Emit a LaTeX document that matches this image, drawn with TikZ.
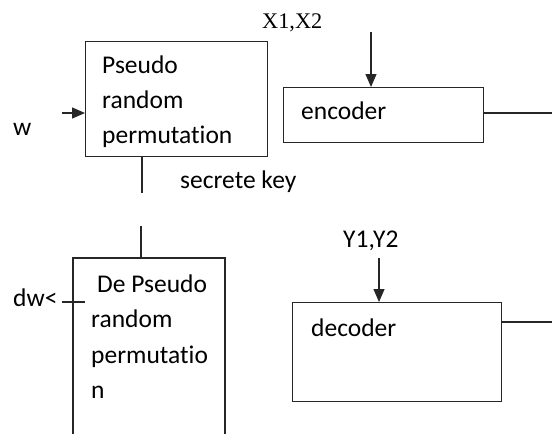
\documentclass[tikz,border=0pt]{standalone}
\usepackage{fontspec}
\setmainfont[Ligatures=NoCommon]{Carlito}
\newfontfamily\serifx{Liberation Serif}
\usetikzlibrary{arrows.meta}
\begin{document}
\begin{tikzpicture}[x=1pt,y=-1pt,
  blk/.style={draw=black!85,line width=1.2pt,rectangle,inner sep=0pt,minimum width=0pt},
  txt/.style={anchor=base west,inner sep=0pt,font=\fontsize{25.5}{30}\selectfont},
  sertxt/.style={anchor=base west,inner sep=0pt,font=\serifx\fontsize{22.3}{26}\selectfont},
  conn/.style={draw=black!85,line width=1.2pt},
  arr/.style={conn,-{Triangle[length=13pt,width=11pt]}}]
\useasboundingbox (0,0) rectangle (552,434);
\clip (0,0) rectangle (552,434);
% boxes
\node[blk,minimum width=182pt,minimum height=115pt,anchor=north west] (prp) at (85,41) {};
\node[blk,minimum width=200pt,minimum height=55pt,anchor=north west] (enc) at (283,87) {};
\node[blk,minimum width=209pt,minimum height=99pt,anchor=north west] (dec) at (292,302) {};
\coordinate (dtl) at (73,258);
\coordinate (dtr) at (225,258);
\coordinate (dbl) at (73,440);
\coordinate (dbr) at (225,440);
\draw[conn] (dbl) -- (dtl) -- (dtr) -- (dbr);
% texts
\node[txt] (t1) at (102,73) {Pseudo};
\node[txt] (t2) at (102,108) {random};
\node[txt] (t3) at (102,143) {permutation};
\node[txt] (w) at (13,135) {w};
\node[txt] (sk) at (180,188) {secrete key};
\node[sertxt] (x12) at (262,28) {X1,X2};
\node[txt] (enct) at (301,119) {encoder};
\node[txt] (d1) at (97,292) {De Pseudo};
\node[txt] (d2) at (91,327) {random};
\node[txt] (d3) at (91,363) {permutatio};
\node[txt] (d4) at (91,398) {n};
\node[txt] (dw) at (13,306) {dw<};
\node[txt] (y12) at (343,247) {Y1,Y2};
\node[txt] (dect) at (311,336) {decoder};
% connector endpoints
\coordinate (wa) at (62,113);
\coordinate (wb) at (85,113);
\coordinate (k1) at (142,156);
\coordinate (k2) at (142,193);
\coordinate (k3) at (141,226);
\coordinate (k4) at (141,258);
\coordinate (xa) at (371,32);
\coordinate (xb) at (371,87);
\coordinate (eo) at (552,113);
\coordinate (ei) at (483,113);
\coordinate (dwa) at (62,302);
\coordinate (dwb) at (85,302);
\coordinate (ya) at (379,258);
\coordinate (yb) at (379,302);
\coordinate (di) at (501,322);
\coordinate (do) at (552,322);
% connectors
\draw[arr] (wa) -- (wb);
\draw[conn] (k1) -- (k2);
\draw[conn] (k3) -- (k4);
\draw[arr] (xa) -- (xb);
\draw[conn] (ei) -- (eo);
\draw[conn] (dwa) -- (dwb);
\draw[arr] (ya) -- (yb);
\draw[conn] (di) -- (do);
\end{tikzpicture}
\end{document}
